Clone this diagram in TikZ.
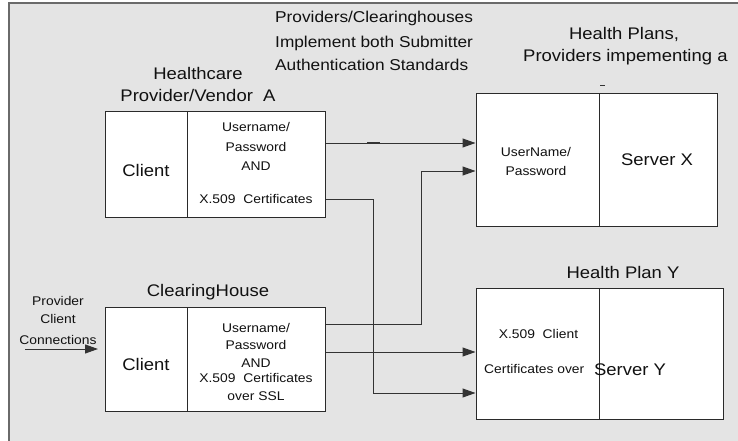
\documentclass[tikz,border=0pt]{standalone}
\usepackage{fontspec}
\setmainfont{Liberation Sans}[FakeStretch=1.1]
\usetikzlibrary{arrows.meta}
\definecolor{bgc}{HTML}{E4E4E4}
\definecolor{framec}{HTML}{6A6A6A}
\definecolor{linec}{HTML}{333333}
\definecolor{boxc}{HTML}{2A2A2A}
\definecolor{txt}{HTML}{111111}
\tikzset{
  box/.style={draw=boxc, fill=white, line width=1pt, inner sep=0pt},
  big/.style={font=\fontsize{16.8}{19}\selectfont, text=txt, inner sep=0pt},
  mid/.style={font=\fontsize{15.7}{18}\selectfont, text=txt, inner sep=0pt},
  sm/.style={font=\fontsize{12.6}{14}\selectfont, text=txt, inner sep=0pt},
  arr/.style={draw=linec, line width=1pt, -{Triangle[length=13pt,width=9pt]}},
  conn/.style={draw=linec, line width=1pt}
}
\begin{document}
\begin{tikzpicture}[x=1pt,y=-1pt]
\useasboundingbox (0,0) rectangle (738,441);
\fill[bgc] (9,3) rectangle (738,441);
\draw[framec, line width=1.3pt] (9,441) -- (9,3) -- (738,3);

% boxes
\node[box, minimum width=82pt, minimum height=105pt] (aL) at (146,164.5) {};
\node[box, minimum width=138pt, minimum height=105pt] (aR) at (256,164.5) {};
\node[box, minimum width=82pt, minimum height=104pt] (cL) at (146,359) {};
\node[box, minimum width=138pt, minimum height=104pt] (cR) at (256,359) {};
\node[box, minimum width=123pt, minimum height=132pt] (xL) at (537.5,160) {};
\node[box, minimum width=118pt, minimum height=132pt] (xR) at (658,160) {};
\node[box, minimum width=123pt, minimum height=131pt] (yL) at (537.5,353.5) {};
\node[box, minimum width=124pt, minimum height=131pt] (yR) at (661,353.5) {};

% top texts
\node[mid, anchor=west] (t1) at (275,18) {Providers/Clearinghouses};
\node[mid, anchor=west] (t2) at (275,43) {Implement both Submitter};
\node[mid, anchor=west] (t3) at (275,65) {Authentication Standards};

\node[big] (ha1) at (198,73) {Healthcare};
\node[big] (ha2) at (198,95) {Provider/Vendor\ \ A};

\node[big] (hp1) at (624,34) {Health Plans,};
\begin{scope}
\clip (0,0) rectangle (727,441);
\node[big, anchor=west] (hp2) at (523,57) {Providers impementing a};
\end{scope}
\draw[linec, line width=1pt] (600,86) -- (605,86);

\node[big] (ch) at (208,292) {ClearingHouse};
\node[big] (hy) at (623,272) {Health Plan Y};

% box A text
\node[big] (acl) at (146,170) {Client};
\node[sm] (a1) at (256,127) {Username/};
\node[sm] (a2) at (256,147) {Password};
\node[sm] (a3) at (256,166) {AND};
\node[sm] (a4) at (256,199) {X.509\ \ Certificates};

% clearinghouse text
\node[big] (ccl) at (146,364) {Client};
\node[sm] (c1) at (256,328) {Username/};
\node[sm] (c2) at (256,345) {Password};
\node[sm] (c3) at (256,363) {AND};
\node[sm] (c4) at (256,378) {X.509\ \ Certificates};
\node[sm] (c5) at (256,396) {over SSL};

% server X text
\node[sm] (x1) at (536,152) {UserName/};
\node[sm] (x2) at (536,171) {Password};
\node[big] (sx) at (657,160) {Server X};

% server Y text
\node[sm] (y1) at (538.5,334) {X.509\ \ Client};
\node[sm, anchor=west] (y2) at (484,369) {Certificates over};
\node[big] (sy) at (630,370) {Server Y};

% provider client connections
\node[sm] (p1) at (58,301) {Provider};
\node[sm] (p2) at (58,319) {Client};
\node[sm] (p3) at (58,340) {Connections};
\coordinate (pin) at (25,349);
\coordinate (pout) at (98,349);
\draw[arr] (pin) -- (pout);

% connectors
\coordinate (s1) at (aR.east |- 0,143);
\draw[arr] (s1) -- (xL.west |- s1);
\draw[linec, line width=2pt] (367,143) -- (380,143);

\coordinate (s2) at (aR.east |- 0,199);
\coordinate (e2) at (yL.west |- 0,393);
\draw[arr] (s2) -- (373,199) -- (373,393) -- (e2);

\coordinate (s3) at (cR.east |- 0,324);
\coordinate (e3) at (xL.west |- 0,171);
\draw[arr] (s3) -- (421,324) -- (421,171) -- (e3);

\coordinate (s4) at (cR.east |- 0,352);
\draw[arr] (s4) -- (yL.west |- s4);
\end{tikzpicture}
\end{document}
